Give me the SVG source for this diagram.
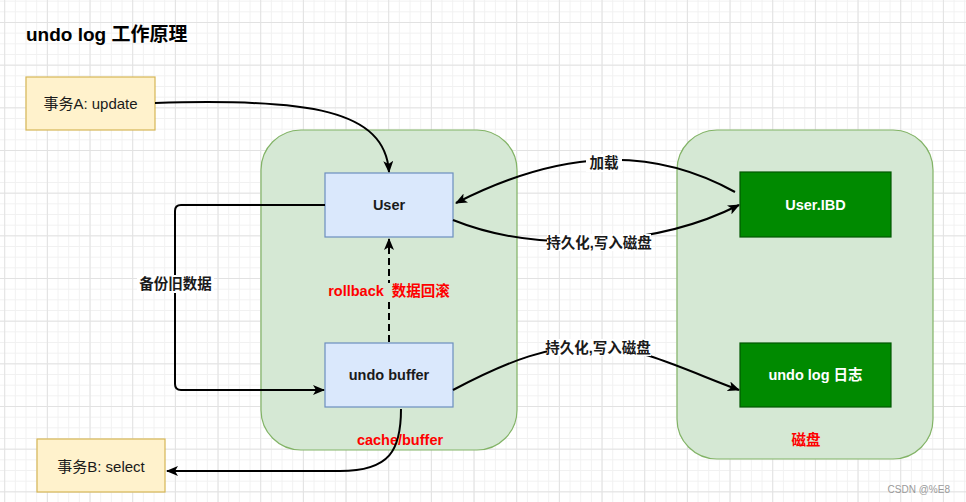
<svg xmlns="http://www.w3.org/2000/svg" width="966" height="502" viewBox="0 0 966 502">
<style>
text{font-family:"Liberation Sans","Noto Sans CJK SC",sans-serif;}
.t{font-size:14.5px;fill:#1a1a1a;text-anchor:middle;dominant-baseline:central;}
.n{font-size:15px;}
.b{font-weight:bold;}
.w{fill:#ffffff;}
.red{fill:#ff0000;font-weight:bold;}
.yellow{fill:#fff2cc;stroke:#d6b656;stroke-width:1.2;}
.cont{fill:#d5e8d4;stroke:#82b366;stroke-width:1.2;}
.blue{fill:#dae8fc;stroke:#6c8ebf;stroke-width:1.2;}
.dg{fill:#008a00;stroke:#005700;stroke-width:1.2;}
.e{fill:none;stroke:#000;stroke-width:2;marker-end:url(#arr);}
.lbg{fill:#ffffff;}
</style>
<defs>
<pattern id="minor" width="10.667" height="10.667" patternUnits="userSpaceOnUse" x="4.2" y="0.67">
<path d="M0,0.5 H10.667 M0.5,0 V10.667" stroke="#f1f1f1" stroke-width="1" fill="none"/>
</pattern>
<pattern id="major" width="42.667" height="42.667" patternUnits="userSpaceOnUse" x="4.2" y="22">
<path d="M0,0.5 H42.667 M0.5,0 V42.667" stroke="#e2e2e2" stroke-width="1" fill="none"/>
</pattern>
<marker id="arr" viewBox="0 0 12 10" refX="11" refY="5" markerWidth="12" markerHeight="10" markerUnits="userSpaceOnUse" orient="auto">
<path d="M0,0 L12,5 L0,10 L3,5 Z" fill="#000"/>
</marker>
</defs>
<rect width="966" height="502" fill="#ffffff"/>
<rect width="966" height="502" fill="url(#minor)"/>
<rect width="966" height="502" fill="url(#major)"/>

<g id="title"><text x="26" y="41" style="font-size:19px;font-weight:bold;fill:#000">undo log 工作原理</text></g>

<g id="cacheContainer">
<rect class="cont" x="261" y="130" width="256" height="320" rx="40"/>
<text class="t red" x="400" y="440">cache/buffer</text>
</g>
<g id="diskContainer">
<rect class="cont" x="677" y="130" width="256" height="329" rx="40"/>
<text class="t red" x="806" y="440">磁盘</text>
</g>

<g id="txA"><rect class="yellow" x="26" y="77" width="129" height="53"/><text class="t n" x="90.5" y="103.5">事务A: update</text></g>
<g id="txB"><rect class="yellow" x="37" y="439" width="128" height="53"/><text class="t n" x="101" y="466">事务B: select</text></g>
<g id="user"><rect class="blue" x="325" y="173" width="128" height="64"/><text class="t b" x="389" y="205">User</text></g>
<g id="undoBuffer"><rect class="blue" x="325" y="343" width="128" height="64"/><text class="t b" x="389" y="375">undo buffer</text></g>
<g id="userIbd"><rect class="dg" x="740" y="172" width="151" height="65"/><text class="t b w" x="815.5" y="204.5">User.IBD</text></g>
<g id="undoLog"><rect class="dg" x="740" y="343" width="151" height="64"/><text class="t b w" x="815.5" y="375">undo log 日志</text></g>

<g id="connectors">
<path class="e" d="M155,103 C310,98 385,110 389,172"/>
<path class="e" d="M325,205 H181 Q175,205 175,211 V384 Q175,390 181,390 H324"/>
<path class="e" d="M389,342 V239" stroke-dasharray="7 4"/>
<path class="e" d="M735,192 C650,145 560,150 456,203"/>
<path class="e" d="M453,220 C540,255 660,245 739,205"/>
<path class="e" d="M453,390 C510,360 550,345 598,346 C640,347 690,372 739,390"/>
<path class="e" d="M401,409 C401,450 390,471 340,471 L167,471"/>
</g>

<g id="edgeLabels">
<rect class="lbg" x="586" y="154" width="36" height="18"/>
<text class="t b" x="604" y="163">加载</text>
<rect class="lbg" x="547" y="234" width="104" height="17"/>
<text class="t b" x="599" y="242.5">持久化,写入磁盘</text>
<rect class="lbg" x="547" y="339" width="104" height="17"/>
<text class="t b" x="598" y="347.5">持久化,写入磁盘</text>
<rect class="lbg" x="137" y="275" width="77" height="18"/>
<text class="t b" x="175.5" y="284">备份旧数据</text>
<rect fill="#d5e8d4" x="380" y="283" width="18" height="17"/>
<text class="t red" x="389" y="291" style="white-space:pre">rollback  数据回滚</text>
</g>

<text x="950" y="493" style="font-size:10px;fill:#9a9a9a;text-anchor:end">CSDN @%E8</text>
</svg>
